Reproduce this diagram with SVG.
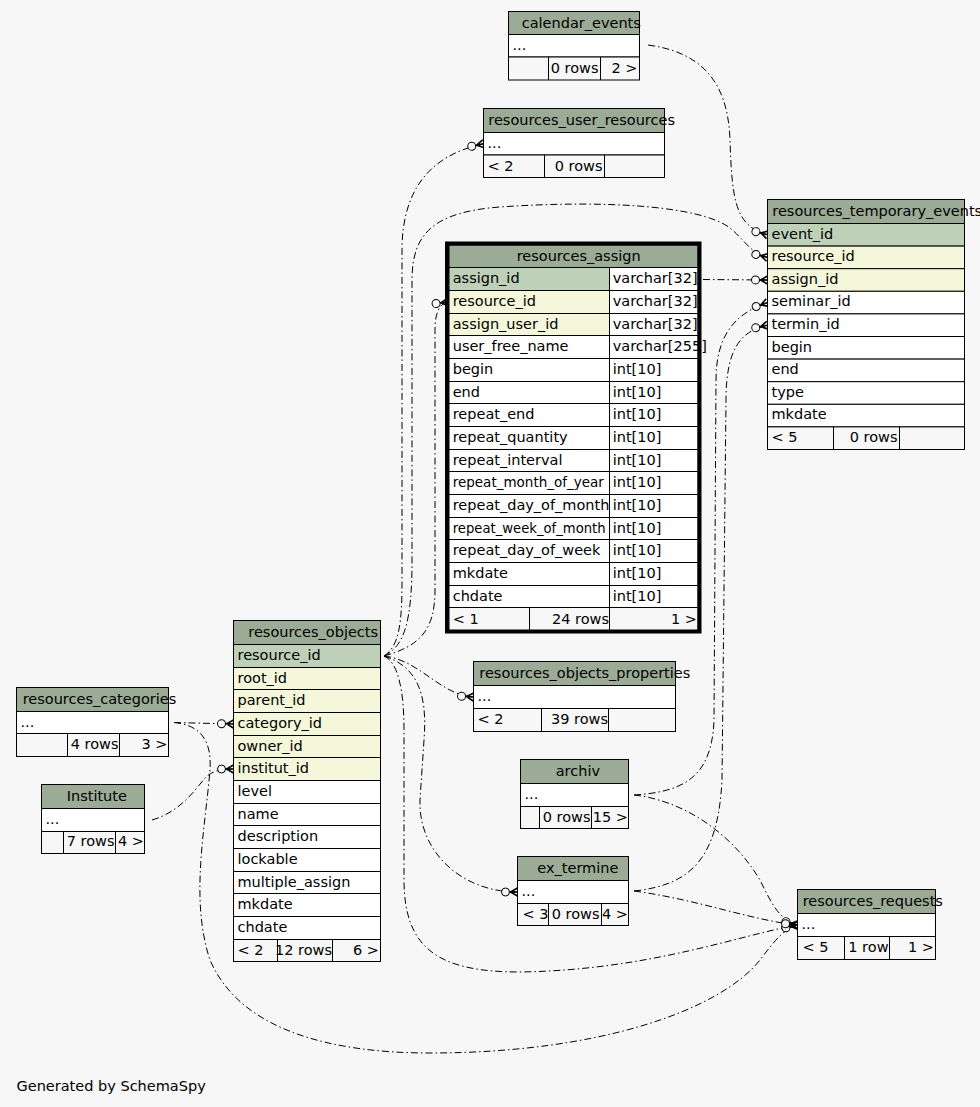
<svg xmlns="http://www.w3.org/2000/svg" width="980" height="1107" viewBox="0 0 980 1107">
<style>
text{font-family:"DejaVu Sans","Liberation Sans",sans-serif;font-size:14.5px;fill:#000}
.e{text-anchor:end}
.hd{fill:#9bab96;stroke:#000;stroke-width:1}
.pk{fill:#bed1b8;stroke:#000;stroke-width:1}
.fk{fill:#f4f7da;stroke:#000;stroke-width:1}
.rw{fill:#ffffff;stroke:#000;stroke-width:1}
.ft{fill:#f7f7f7;stroke:#000;stroke-width:1}
.ln{stroke:#000;stroke-width:1}
.edge{fill:none;stroke:#000;stroke-width:1;stroke-dasharray:7,3,1.5,3;marker-end:url(#co)}
</style>
<defs>
<marker id="co" markerUnits="userSpaceOnUse" viewBox="-18 -7 20 14" markerWidth="20" markerHeight="14" refX="0" refY="0" orient="auto" overflow="visible">
<circle cx="-12" cy="0" r="4" fill="#f7f7f7" stroke="#000" stroke-width="1"/>
<path d="M-8,0 H0 M0,-4 L-7,0 L0,4" fill="none" stroke="#000" stroke-width="1.6"/>
</marker>
</defs>
<rect x="0" y="0" width="980" height="1107" fill="#f7f7f7"/>

<g id="connectors">
<path class="edge" d="M648,45 C700,52 728,80 730,140 C732,200 735,226 767.5,234.8"/>
<path class="edge" d="M384,656 C405,646 412,620 412,560 L412,280 C412,235 432,212 500,207 C600,200 700,205 730,228 C745,240 750,253 767.5,257.4"/>
<path class="edge" d="M703,279.5 L767.5,280"/>
<path class="edge" d="M634,795 C680,792 712,780 714,720 L716,380 C716,330 740,312 767.5,302.6"/>
<path class="edge" d="M634,891 C690,885 718,860 722,780 L726,400 C726,350 740,331 767.5,325.2"/>
<path class="edge" d="M384,656 C400,646 402,620 402,580 L402,250 C402,190 430,155 483.5,143.8"/>
<path class="edge" d="M384,656 C420,646 435,630 435,590 L435,330 C435,312 440,303 448,302"/>
<path class="edge" d="M384,656 C420,660 440,695 473.5,697"/>
<path class="edge" d="M384,656 C415,666 428,690 424,740 L420,800 C418,850 460,892 517.5,892"/>
<path class="edge" d="M384,656 C398,662 404,690 404,730 L404,880 C404,950 440,972 520,972 C650,970 740,935 797.5,925"/>
<path class="edge" d="M174,722.5 L233.5,724"/>
<path class="edge" d="M152,820 C180,812 195,790 205,778 C212,771 220,769 233.5,769"/>
<path class="edge" d="M174,722.5 C200,725 212,740 210,770 C205,830 190,900 210,960 C240,1030 330,1053 430,1053 C600,1053 720,1010 760,960 C775,940 785,928 797.5,925"/>
<path class="edge" d="M634,795 C680,800 730,830 760,880 C772,905 780,920 797.5,925"/>
<path class="edge" d="M634,891 C700,900 750,920 797.5,925"/>
</g>

<g id="calendar_events">
<rect class="hd" x="508.5" y="11.5" width="131" height="23"/>
<rect class="rw" x="508.5" y="34.5" width="131" height="22.5"/>
<rect class="ft" x="508.5" y="57" width="131" height="23"/>
<line class="ln" x1="548.5" y1="57" x2="548.5" y2="80"/>
<line class="ln" x1="600.5" y1="57" x2="600.5" y2="80"/>
<text x="521.7" y="27.5">calendar_events</text>
<text x="512.5" y="50">...</text>
<text class="e" x="598.5" y="73">0 rows</text>
<text class="e" x="637.5" y="73">2 &gt;</text>
</g>

<g id="resources_user_resources">
<rect class="hd" x="483.5" y="108.5" width="181" height="24"/>
<rect class="rw" x="483.5" y="132.5" width="181" height="22.5"/>
<rect class="ft" x="483.5" y="155" width="181" height="22.5"/>
<line class="ln" x1="544.5" y1="155" x2="544.5" y2="177.5"/>
<line class="ln" x1="604.5" y1="155" x2="604.5" y2="177.5"/>
<text x="488.3" y="124.5">resources_user_resources</text>
<text x="487.5" y="148">...</text>
<text x="487.5" y="170.5">&lt; 2</text>
<text class="e" x="602.5" y="170.5">0 rows</text>
</g>

<g id="resources_temporary_events">
<rect class="hd" x="767.5" y="199.5" width="197" height="24"/>
<rect class="pk" x="767.5" y="223.5" width="197" height="22.6"/>
<rect class="fk" x="767.5" y="246.1" width="197" height="22.6"/>
<rect class="fk" x="767.5" y="268.7" width="197" height="22.6"/>
<rect class="rw" x="767.5" y="291.3" width="197" height="22.6"/>
<rect class="rw" x="767.5" y="313.9" width="197" height="22.6"/>
<rect class="rw" x="767.5" y="336.5" width="197" height="22.6"/>
<rect class="rw" x="767.5" y="359.1" width="197" height="22.6"/>
<rect class="rw" x="767.5" y="381.7" width="197" height="22.6"/>
<rect class="rw" x="767.5" y="404.3" width="197" height="22.6"/>
<rect class="ft" x="767.5" y="426.9" width="197" height="22.6"/>
<line class="ln" x1="833.5" y1="426.9" x2="833.5" y2="449.5"/>
<line class="ln" x1="899.5" y1="426.9" x2="899.5" y2="449.5"/>
<text x="772.3" y="215.5">resources_temporary_events</text>
<text x="771.5" y="238.5">event_id</text>
<text x="771.5" y="261.1">resource_id</text>
<text x="771.5" y="283.7">assign_id</text>
<text x="771.5" y="306.3">seminar_id</text>
<text x="771.5" y="328.9">termin_id</text>
<text x="771.5" y="351.5">begin</text>
<text x="771.5" y="374.1">end</text>
<text x="771.5" y="396.7">type</text>
<text x="771.5" y="419.3">mkdate</text>
<text x="771.5" y="441.9">&lt; 5</text>
<text class="e" x="897.5" y="441.9">0 rows</text>
</g>

<g id="resources_assign">
<rect class="hd" x="449" y="245" width="249" height="22.5"/>
<rect class="pk" x="449" y="267.5" width="160.5" height="23"/>
<rect class="rw" x="609.5" y="267.5" width="88.5" height="23"/>
<rect class="fk" x="449" y="290.5" width="160.5" height="23"/>
<rect class="rw" x="609.5" y="290.5" width="88.5" height="23"/>
<rect class="fk" x="449" y="313.5" width="160.5" height="22"/>
<rect class="rw" x="609.5" y="313.5" width="88.5" height="22"/>
<rect class="rw" x="449" y="335.5" width="160.5" height="23"/>
<rect class="rw" x="609.5" y="335.5" width="88.5" height="23"/>
<rect class="rw" x="449" y="358.5" width="160.5" height="23"/>
<rect class="rw" x="609.5" y="358.5" width="88.5" height="23"/>
<rect class="rw" x="449" y="381.5" width="160.5" height="22"/>
<rect class="rw" x="609.5" y="381.5" width="88.5" height="22"/>
<rect class="rw" x="449" y="403.5" width="160.5" height="23"/>
<rect class="rw" x="609.5" y="403.5" width="88.5" height="23"/>
<rect class="rw" x="449" y="426.5" width="160.5" height="23"/>
<rect class="rw" x="609.5" y="426.5" width="88.5" height="23"/>
<rect class="rw" x="449" y="449.5" width="160.5" height="22"/>
<rect class="rw" x="609.5" y="449.5" width="88.5" height="22"/>
<rect class="rw" x="449" y="471.5" width="160.5" height="23"/>
<rect class="rw" x="609.5" y="471.5" width="88.5" height="23"/>
<rect class="rw" x="449" y="494.5" width="160.5" height="23"/>
<rect class="rw" x="609.5" y="494.5" width="88.5" height="23"/>
<rect class="rw" x="449" y="517.5" width="160.5" height="22"/>
<rect class="rw" x="609.5" y="517.5" width="88.5" height="22"/>
<rect class="rw" x="449" y="539.5" width="160.5" height="23"/>
<rect class="rw" x="609.5" y="539.5" width="88.5" height="23"/>
<rect class="rw" x="449" y="562.5" width="160.5" height="23"/>
<rect class="rw" x="609.5" y="562.5" width="88.5" height="23"/>
<rect class="rw" x="449" y="585.5" width="160.5" height="22"/>
<rect class="rw" x="609.5" y="585.5" width="88.5" height="22"/>
<rect class="ft" x="449" y="607.5" width="249" height="23"/>
<line class="ln" x1="529.5" y1="607.5" x2="529.5" y2="630.5"/>
<line class="ln" x1="609.5" y1="607.5" x2="609.5" y2="630.5"/>
<rect x="447" y="243.5" width="252.5" height="388" fill="none" stroke="#000" stroke-width="4"/>
<text x="516.7" y="261">resources_assign</text>
<text x="452.7" y="283">assign_id</text>
<text x="452.7" y="306">resource_id</text>
<text x="452.7" y="329">assign_user_id</text>
<text x="452.7" y="351">user_free_name</text>
<text x="452.7" y="374">begin</text>
<text x="452.7" y="397">end</text>
<text x="452.7" y="419">repeat_end</text>
<text x="452.7" y="442">repeat_quantity</text>
<text x="452.7" y="465">repeat_interval</text>
<text x="452.7" y="487" style="font-size:13.5px">repeat_month_of_year</text>
<text x="452.7" y="510">repeat_day_of_month</text>
<text x="452.7" y="533" style="font-size:13.2px">repeat_week_of_month</text>
<text x="452.7" y="555">repeat_day_of_week</text>
<text x="452.7" y="578">mkdate</text>
<text x="452.7" y="601">chdate</text>
<text x="612.7" y="283">varchar[32]</text>
<text x="612.7" y="306">varchar[32]</text>
<text x="612.7" y="329">varchar[32]</text>
<text x="612.7" y="351">varchar[255]</text>
<text x="612.7" y="374">int[10]</text>
<text x="612.7" y="397">int[10]</text>
<text x="612.7" y="419">int[10]</text>
<text x="612.7" y="442">int[10]</text>
<text x="612.7" y="465">int[10]</text>
<text x="612.7" y="487">int[10]</text>
<text x="612.7" y="510">int[10]</text>
<text x="612.7" y="533">int[10]</text>
<text x="612.7" y="555">int[10]</text>
<text x="612.7" y="578">int[10]</text>
<text x="612.7" y="601">int[10]</text>
<text x="452.7" y="623.5">&lt; 1</text>
<text class="e" x="609" y="623.5">24 rows</text>
<text class="e" x="697" y="623.5">1 &gt;</text>
</g>

<g id="resources_objects">
<rect class="hd" x="233.5" y="620.5" width="147" height="24"/>
<rect class="pk" x="233.5" y="644.5" width="147" height="23"/>
<rect class="fk" x="233.5" y="667.5" width="147" height="22"/>
<rect class="fk" x="233.5" y="689.5" width="147" height="23"/>
<rect class="fk" x="233.5" y="712.5" width="147" height="23"/>
<rect class="fk" x="233.5" y="735.5" width="147" height="22"/>
<rect class="fk" x="233.5" y="757.5" width="147" height="23"/>
<rect class="rw" x="233.5" y="780.5" width="147" height="23"/>
<rect class="rw" x="233.5" y="803.5" width="147" height="22"/>
<rect class="rw" x="233.5" y="825.5" width="147" height="23"/>
<rect class="rw" x="233.5" y="848.5" width="147" height="23"/>
<rect class="rw" x="233.5" y="871.5" width="147" height="22"/>
<rect class="rw" x="233.5" y="893.5" width="147" height="23"/>
<rect class="rw" x="233.5" y="916.5" width="147" height="23"/>
<rect class="ft" x="233.5" y="939.5" width="147" height="22"/>
<line class="ln" x1="277.5" y1="939.5" x2="277.5" y2="961.5"/>
<line class="ln" x1="332.5" y1="939.5" x2="332.5" y2="961.5"/>
<text x="248.3" y="636.5">resources_objects</text>
<text x="237.5" y="660">resource_id</text>
<text x="237.5" y="683">root_id</text>
<text x="237.5" y="705">parent_id</text>
<text x="237.5" y="728">category_id</text>
<text x="237.5" y="751">owner_id</text>
<text x="237.5" y="773">institut_id</text>
<text x="237.5" y="796">level</text>
<text x="237.5" y="819">name</text>
<text x="237.5" y="841">description</text>
<text x="237.5" y="864">lockable</text>
<text x="237.5" y="887">multiple_assign</text>
<text x="237.5" y="909">mkdate</text>
<text x="237.5" y="932">chdate</text>
<text x="237.5" y="954.5">&lt; 2</text>
<text class="e" x="332" y="954.5">12 rows</text>
<text class="e" x="379" y="954.5">6 &gt;</text>
</g>

<g id="resources_categories">
<rect class="hd" x="16.5" y="687.5" width="152" height="24"/>
<rect class="rw" x="16.5" y="711.5" width="152" height="22"/>
<rect class="ft" x="16.5" y="733.5" width="152" height="23"/>
<line class="ln" x1="67.5" y1="733.5" x2="67.5" y2="756.5"/>
<line class="ln" x1="119.5" y1="733.5" x2="119.5" y2="756.5"/>
<text x="22.7" y="703.5">resources_categories</text>
<text x="20.5" y="726.5">...</text>
<text class="e" x="118.5" y="749">4 rows</text>
<text class="e" x="167.5" y="749">3 &gt;</text>
</g>

<g id="Institute">
<rect class="hd" x="41.5" y="784.5" width="103" height="24"/>
<rect class="rw" x="41.5" y="808.5" width="103" height="23"/>
<rect class="ft" x="41.5" y="831.5" width="103" height="22"/>
<line class="ln" x1="63.5" y1="831.5" x2="63.5" y2="853.5"/>
<line class="ln" x1="115.5" y1="831.5" x2="115.5" y2="853.5"/>
<text x="66.7" y="800.5">Institute</text>
<text x="45.5" y="823.5">...</text>
<text class="e" x="114.5" y="846">7 rows</text>
<text class="e" x="144" y="846">4 &gt;</text>
</g>

<g id="resources_objects_properties">
<rect class="hd" x="473.5" y="661.5" width="202" height="24"/>
<rect class="rw" x="473.5" y="685.5" width="202" height="23"/>
<rect class="ft" x="473.5" y="708.5" width="202" height="23"/>
<line class="ln" x1="541.5" y1="708.5" x2="541.5" y2="731.5"/>
<line class="ln" x1="608.5" y1="708.5" x2="608.5" y2="731.5"/>
<text x="479.3" y="677.5">resources_objects_properties</text>
<text x="477.5" y="701">...</text>
<text x="477.5" y="724">&lt; 2</text>
<text class="e" x="608" y="724">39 rows</text>
</g>

<g id="archiv">
<rect class="hd" x="520.5" y="759.5" width="108" height="24"/>
<rect class="rw" x="520.5" y="783.5" width="108" height="23"/>
<rect class="ft" x="520.5" y="806.5" width="108" height="22"/>
<line class="ln" x1="539.5" y1="806.5" x2="539.5" y2="828.5"/>
<line class="ln" x1="591.5" y1="806.5" x2="591.5" y2="828.5"/>
<text x="555.7" y="775.5">archiv</text>
<text x="524.5" y="799">...</text>
<text class="e" x="590.5" y="821.5">0 rows</text>
<text class="e" x="628" y="821.5">15 &gt;</text>
</g>

<g id="ex_termine">
<rect class="hd" x="517.5" y="856.5" width="111" height="24"/>
<rect class="rw" x="517.5" y="880.5" width="111" height="23"/>
<rect class="ft" x="517.5" y="903.5" width="111" height="22"/>
<line class="ln" x1="548.5" y1="903.5" x2="548.5" y2="925.5"/>
<line class="ln" x1="601.5" y1="903.5" x2="601.5" y2="925.5"/>
<text x="537.3" y="872.5">ex_termine</text>
<text x="521.5" y="896">...</text>
<text x="522.5" y="918.5">&lt; 3</text>
<text class="e" x="599.5" y="918.5">0 rows</text>
<text class="e" x="628" y="918.5">4 &gt;</text>
</g>

<g id="resources_requests">
<rect class="hd" x="797.5" y="889.5" width="138" height="24"/>
<rect class="rw" x="797.5" y="913.5" width="138" height="23"/>
<rect class="ft" x="797.5" y="936.5" width="138" height="23"/>
<line class="ln" x1="844.5" y1="936.5" x2="844.5" y2="959.5"/>
<line class="ln" x1="889.5" y1="936.5" x2="889.5" y2="959.5"/>
<text x="802.7" y="905.5">resources_requests</text>
<text x="801.5" y="929">...</text>
<text x="802.5" y="952">&lt; 5</text>
<text class="e" x="888.5" y="952">1 row</text>
<text class="e" x="934" y="952">1 &gt;</text>
</g>

<text x="16.5" y="1091">Generated by SchemaSpy</text>
</svg>
